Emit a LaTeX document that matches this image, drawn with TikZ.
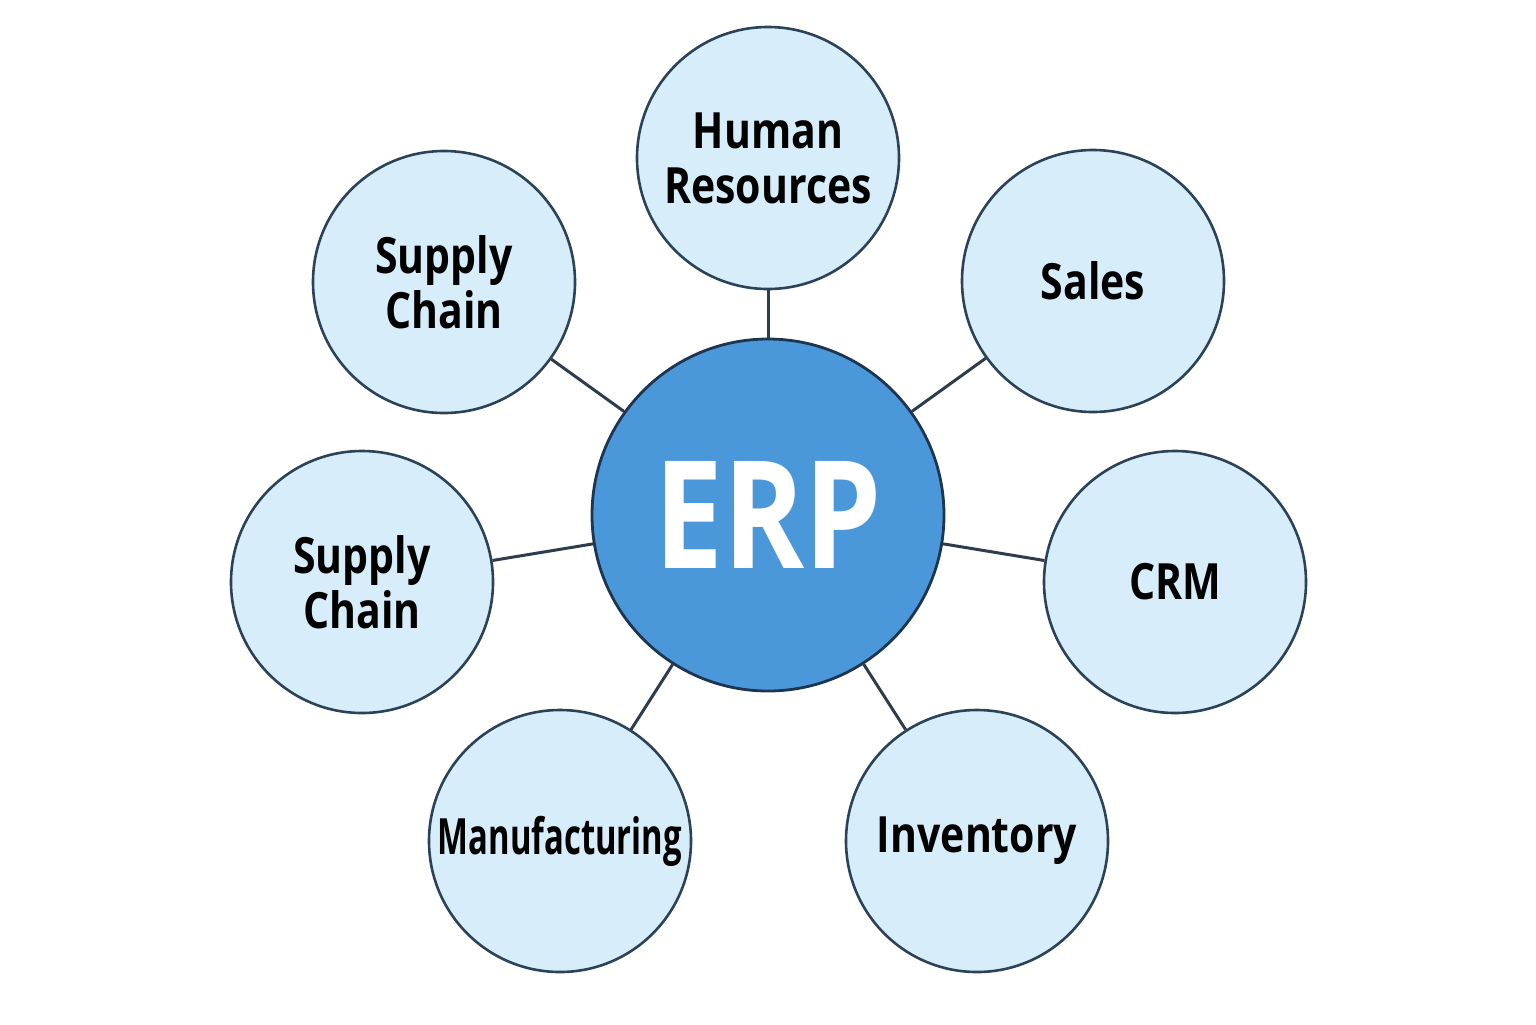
\documentclass[tikz,border=0pt]{standalone}
\usepackage{fontspec}
\setmainfont{Open Sans}[FakeStretch=0.82]
\definecolor{erpfill}{HTML}{4A98D9}
\definecolor{erpline}{HTML}{1E3550}
\definecolor{satfill}{HTML}{D7EEFA}
\definecolor{satline}{HTML}{2C4257}
\definecolor{conn}{HTML}{2E3D4D}
\begin{document}
\begin{tikzpicture}[x=0.5pt,y=-0.5pt,
  sat/.style={circle,draw=satline,fill=satfill,line width=1.3pt,minimum size=131pt,inner sep=0pt,
    align=center,font=\fontsize{25}{27.5}\selectfont\bfseries,text=black},
  hub/.style={circle,draw=erpline,fill=erpfill,line width=1.4pt,minimum size=176pt,inner sep=0pt,
    font=\fontsize{75}{80}\selectfont\bfseries,text=white},
  link/.style={draw=conn,line width=1.5pt}]
\useasboundingbox (0,0) rectangle (1536,1024);
\node[hub] (erp) at (768,515) {ERP};
\node[sat] (hr) at (768,158) {Human\\Resources};
\node[sat] (sales) at (1093,281) {Sales};
\node[sat] (crm) at (1175,582) {CRM};
\node[sat] (inv) at (977,841) {Inventory};
\node[sat] (man) at (560,841) {\scalebox{0.8}[1]{Manufacturing}};
\node[sat] (sc2) at (362,582) {Supply\\Chain};
\node[sat] (sc1) at (444,282) {Supply\\Chain};
\foreach \n in {hr,sales,crm,inv,man,sc2,sc1}
  \draw[link] (erp) -- (\n);
\end{tikzpicture}
\end{document}
